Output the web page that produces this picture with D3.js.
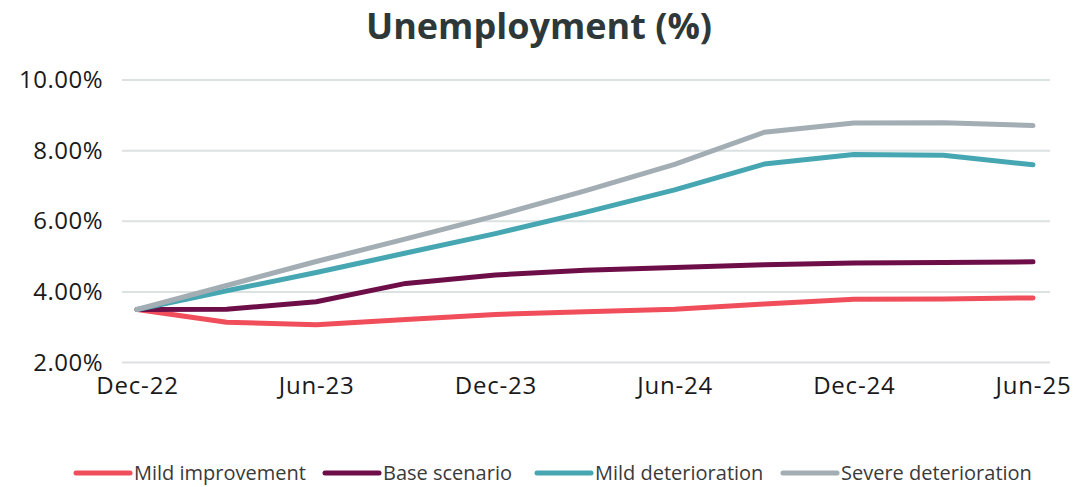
<!DOCTYPE html>
<html>
<head>
<meta charset="utf-8">
<script src="https://cdn.jsdelivr.net/npm/d3@7"></script>
<style>
  body { margin: 0; background: #fff; }
  svg text { font-family: "Open Sans", "Noto Sans", sans-serif; }
</style>
</head>
<body>
<div class="chart"></div>
<script>
var width = 1077,
    height = 487;

// quarterly periods
var periods = ["Dec-22", "Mar-23", "Jun-23", "Sep-23", "Dec-23", "Mar-24", "Jun-24", "Sep-24", "Dec-24", "Mar-25", "Jun-25"];
var tickLabels = ["Dec-22", "Jun-23", "Dec-23", "Jun-24", "Dec-24", "Jun-25"];
var yTicks = [2, 4, 6, 8, 10];

var mildImprovement = [3.5, 3.14, 3.07, 3.22, 3.36, 3.44, 3.51, 3.66, 3.79, 3.80, 3.83];
var baseScenario = [3.5, 3.51, 3.72, 4.24, 4.48, 4.61, 4.69, 4.77, 4.82, 4.83, 4.85];
var mildDeterioration = [3.5, 4.03, 4.55, 5.1, 5.65, 6.25, 6.89, 7.62, 7.89, 7.87, 7.6];
var severeDeterioration = [3.5, 4.18, 4.86, 5.5, 6.15, 6.86, 7.61, 8.52, 8.78, 8.79, 8.71];

var seriesNames = ["Mild improvement", "Base scenario", "Mild deterioration", "Severe deterioration"];
var seriesColors = ["#F04E5B", "#6D0E48", "#46A7B2", "#A3ADB4"];

var series = [mildImprovement, baseScenario, mildDeterioration, severeDeterioration].map(function(v, i) {
  return {name: seriesNames[i], color: seriesColors[i], values: v};
});

var svg = d3.select(".chart").append("svg")
  .attr("width", width)
  .attr("height", height);

var x = d3.scalePoint()
  .domain(periods)
  .range([137, 1033]);

var y = d3.scaleLinear()
  .domain([2, 10])
  .range([362.5, 80]);

// title
svg.append("text")
  .attr("x", 539)
  .attr("y", 39)
  .attr("text-anchor", "middle")
  .attr("fill", "#2E3838")
  .style("font-size", "36px")
  .style("font-weight", "700")
  .text("Unemployment (%)");

// gridlines
svg.append("g")
  .selectAll("line")
  .data(yTicks)
  .enter()
  .append("line")
  .attr("x1", 122)
  .attr("x2", 1050)
  .attr("y1", function(d) { return y(d); })
  .attr("y2", function(d) { return y(d); })
  .attr("stroke", "#DCE1E1")
  .attr("stroke-width", 2);

// y axis
var yAxis = svg.append("g")
  .attr("transform", "translate(122,0)")
  .call(d3.axisLeft(y).tickValues(yTicks).tickSize(0).tickPadding(19)
    .tickFormat(function(d) { return d.toFixed(2) + "%"; }));
yAxis.select(".domain").remove();
yAxis.selectAll("text")
  .attr("fill", "#1A1A1A")
  .style("font-size", "24px")
  .style("letter-spacing", "0.5px");

// x axis
var xAxis = svg.append("g")
  .attr("transform", "translate(0,369)")
  .call(d3.axisBottom(x).tickValues(tickLabels).tickSize(0).tickPadding(8));
xAxis.select(".domain").remove();
xAxis.selectAll("text")
  .attr("fill", "#1A1A1A")
  .style("font-size", "24px")
  .style("letter-spacing", "0.8px");

// lines
var line = d3.line()
  .x(function(d, i) { return x(periods[i]); })
  .y(function(d) { return y(d); });

svg.append("g")
  .selectAll("path")
  .data(series)
  .enter()
  .append("path")
  .attr("d", function(d) { return line(d.values); })
  .attr("fill", "none")
  .attr("stroke", function(d) { return d.color; })
  .attr("stroke-width", 5)
  .attr("stroke-linecap", "round")
  .attr("stroke-linejoin", "round");

// legend
var legendX = [76, 325, 537, 783];
var legend = svg.append("g")
  .selectAll("g")
  .data(series)
  .enter()
  .append("g")
  .attr("transform", function(d, i) { return "translate(" + legendX[i] + ",473)"; });

legend.append("line")
  .attr("x1", 0)
  .attr("x2", 54)
  .attr("stroke", function(d) { return d.color; })
  .attr("stroke-width", 5)
  .attr("stroke-linecap", "round");

legend.append("text")
  .attr("x", 58)
  .attr("dy", "0.35em")
  .attr("fill", "#3A3A3A")
  .style("font-size", "20px")
  .text(function(d) { return d.name; });
</script>
</body>
</html>
